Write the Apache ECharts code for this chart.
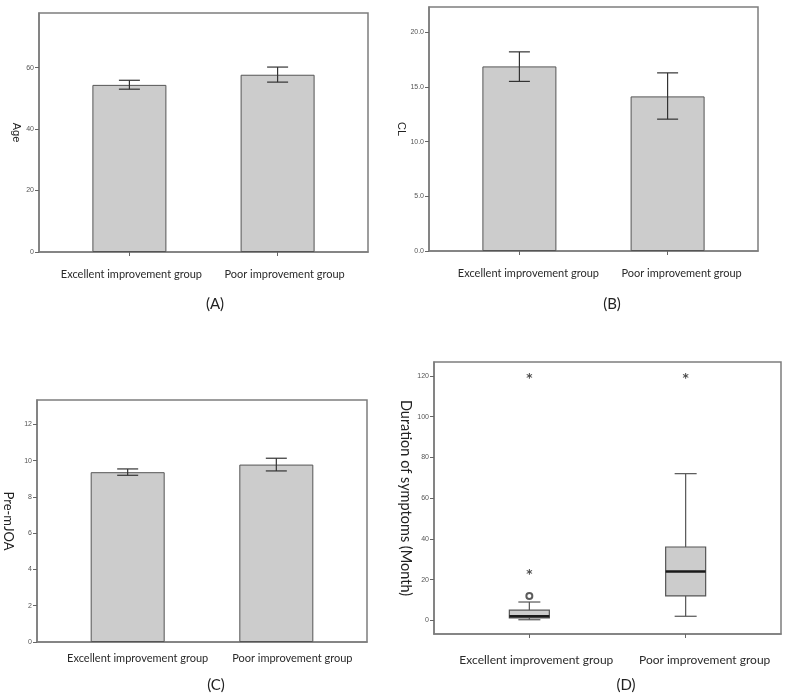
<!DOCTYPE html>
<html lang="en">
<head>
  <meta charset="UTF-8">
  <title>Groups</title>
  <script src="https://cdn.jsdelivr.net/npm/echarts@6/dist/echarts.min.js"></script>
  <style>
    html, body { margin: 0; padding: 0; background: #fff; }
    #main { width: 788px; height: 698px; }
  </style>
</head>
<body>
<div id="main"></div>
<script type="text/javascript">
  var groups = ['Excellent improvement group', 'Poor improvement group'];

  // (A) Age: mean with error bar
  var ageMean = [54.4, 57.7];
  var ageLow = [53.0, 55.3];
  var ageHigh = [55.9, 60.2];
  var ageTicks = [0, 20, 40, 60];

  // (B) CL
  var clMean = [16.87, 14.13];
  var clLow = [15.5, 12.05];
  var clHigh = [18.2, 16.28];
  var clTicks = [0, 5, 10, 15, 20];

  // (C) Pre-mJOA
  var mjoaMean = [9.36, 9.78];
  var mjoaLow = [9.19, 9.43];
  var mjoaHigh = [9.54, 10.13];
  var mjoaTicks = [0, 2, 4, 6, 8, 10, 12];

  // (D) Duration of symptoms: min, q1, median, q3, max
  var durExcellent = [0.3, 1.2, 2, 5, 9];
  var durPoor = [2, 12, 24, 36, 72];
  var durCircles = [[1, 12]];
  var durStars = [[1, 24], [1, 120], [2, 120]];
  var durTicks = [0, 20, 40, 60, 80, 100, 120];

  var boxColor = '#7d7d7d';
  var catFont = 'Lato';

  // labels sit a bit right of their ticks in the original figure
  function xAxisFor(idx, margin, showTick, fontSize, shift) {
    var rich = {};
    for (var i = 0; i < 2; i++) {
      rich['g' + i] = {
        fontFamily: catFont,
        fontSize: fontSize,
        color: '#2a2a2a',
        padding: [0, 0, 0, shift[i] * 2]
      };
    }
    return {
      type: 'value',
      gridIndex: idx,
      min: 0.39,
      max: 2.61,
      splitLine: { show: false },
      axisLine: { show: true, onZero: false, lineStyle: { color: boxColor, width: 1.5 } },
      axisTick: { show: showTick, customValues: [1, 2], length: 4, lineStyle: { color: '#666' } },
      axisLabel: {
        customValues: [1, 2],
        margin: margin,
        rich: rich,
        formatter: function (v) {
          var k = Math.round(v) - 1;
          return '{g' + k + '|' + groups[k] + '}';
        }
      }
    };
  }

  function yAxisFor(idx, min, max, ticks, name, nameSize, nameFont, nameGap, digits) {
    return {
      type: 'value',
      gridIndex: idx,
      min: min,
      max: max,
      name: name,
      nameLocation: 'middle',
      nameRotate: -90,
      nameGap: nameGap,
      nameTextStyle: { fontFamily: nameFont, fontSize: nameSize, color: '#222' },
      splitLine: { show: false },
      axisLine: { show: true, onZero: false, lineStyle: { color: boxColor, width: 1.5 } },
      axisTick: { show: true, customValues: ticks, length: 4, lineStyle: { color: '#666' } },
      axisLabel: {
        customValues: ticks,
        margin: 5,
        fontFamily: 'Liberation Sans',
        fontSize: 7,
        color: '#555',
        formatter: function (v) { return digits ? v.toFixed(digits) : String(v); }
      }
    };
  }

  function barSeries(idx, values) {
    return {
      type: 'bar',
      xAxisIndex: idx,
      yAxisIndex: idx,
      barWidth: 74,
      data: values.map(function (v, i) { return [i + 1, v]; }),
      itemStyle: { color: '#cccccc', borderColor: '#555', borderWidth: 1 },
      silent: true
    };
  }

  function errorSeries(idx, low, high) {
    return {
      type: 'custom',
      xAxisIndex: idx,
      yAxisIndex: idx,
      z: 5,
      silent: true,
      encode: { x: 0, y: [1, 2] },
      data: low.map(function (l, i) { return [i + 1, l, high[i]]; }),
      renderItem: function (params, api) {
        var x = api.value(0);
        var lo = api.coord([x, api.value(1)]);
        var hi = api.coord([x, api.value(2)]);
        var w = 10.5;
        var st = { stroke: '#333', lineWidth: 1.2 };
        return {
          type: 'group',
          children: [
            { type: 'line', shape: { x1: lo[0], y1: lo[1], x2: hi[0], y2: hi[1] }, style: st },
            { type: 'line', shape: { x1: lo[0] - w, y1: lo[1], x2: lo[0] + w, y2: lo[1] }, style: st },
            { type: 'line', shape: { x1: hi[0] - w, y1: hi[1], x2: hi[0] + w, y2: hi[1] }, style: st }
          ]
        };
      }
    };
  }

  var boxData = [[1].concat(durExcellent), [2].concat(durPoor)];

  var boxSeries = {
    type: 'custom',
    xAxisIndex: 3,
    yAxisIndex: 3,
    silent: true,
    encode: { x: 0, y: [1, 2, 3, 4, 5] },
    data: boxData,
    renderItem: function (params, api) {
      var x = api.value(0);
      var pMin = api.coord([x, api.value(1)]);
      var pQ1 = api.coord([x, api.value(2)]);
      var pMed = api.coord([x, api.value(3)]);
      var pQ3 = api.coord([x, api.value(4)]);
      var pMax = api.coord([x, api.value(5)]);
      var half = 20;
      var cap = 11;
      var cx = pQ1[0];
      var st = { stroke: '#555', lineWidth: 1.2 };
      return {
        type: 'group',
        children: [
          { type: 'line', shape: { x1: cx, y1: pQ3[1], x2: cx, y2: pMax[1] }, style: st },
          { type: 'line', shape: { x1: cx, y1: pQ1[1], x2: cx, y2: pMin[1] }, style: st },
          { type: 'line', shape: { x1: cx - cap, y1: pMax[1], x2: cx + cap, y2: pMax[1] }, style: st },
          { type: 'line', shape: { x1: cx - cap, y1: pMin[1], x2: cx + cap, y2: pMin[1] }, style: st },
          { type: 'rect', shape: { x: cx - half, y: pQ3[1], width: half * 2, height: pQ1[1] - pQ3[1] },
            style: { fill: '#cccccc', stroke: '#555', lineWidth: 1.2 } },
          { type: 'line', shape: { x1: cx - half, y1: pMed[1], x2: cx + half, y2: pMed[1] },
            style: { stroke: '#1a1a1a', lineWidth: 2.6 } }
        ]
      };
    }
  };

  var myChart = echarts.init(document.getElementById('main'));

  var option = {
    backgroundColor: '#fff',
    animation: false,
    title: [
      { text: '(A)', left: 210, top: 292, textAlign: 'center', textStyle: { fontFamily: catFont, fontSize: 15, fontWeight: 'normal', color: '#222' } },
      { text: '(B)', left: 607, top: 292, textAlign: 'center', textStyle: { fontFamily: catFont, fontSize: 15, fontWeight: 'normal', color: '#222' } },
      { text: '(C)', left: 211, top: 673, textAlign: 'center', textStyle: { fontFamily: catFont, fontSize: 15, fontWeight: 'normal', color: '#222' } },
      { text: '(D)', left: 621, top: 673, textAlign: 'center', textStyle: { fontFamily: catFont, fontSize: 15, fontWeight: 'normal', color: '#222' } }
    ],
    grid: [
      { left: 39, top: 13, width: 329, height: 239, show: true, borderColor: boxColor, borderWidth: 1.5, backgroundColor: '#fff' },
      { left: 429, top: 7, width: 329, height: 244, show: true, borderColor: boxColor, borderWidth: 1.5, backgroundColor: '#fff' },
      { left: 37, top: 400, width: 330, height: 242, show: true, borderColor: boxColor, borderWidth: 1.5, backgroundColor: '#fff' },
      { left: 434, top: 362, width: 347, height: 272, show: true, borderColor: boxColor, borderWidth: 1.5, backgroundColor: '#fff' }
    ],
    xAxis: [
      xAxisFor(0, 17, true, 11, [2, 7]),
      xAxisFor(1, 17, true, 11, [9, 14]),
      xAxisFor(2, 11, false, 11, [10, 16]),
      xAxisFor(3, 20, true, 12, [7, 19])
    ],
    yAxis: [
      yAxisFor(0, 0, 77.8, ageTicks, 'Age', 11, 'Liberation Sans', 17, 0),
      yAxisFor(1, 0, 22.3, clTicks, 'CL', 11, 'Liberation Sans', 22, 1),
      yAxisFor(2, 0, 13.34, mjoaTicks, 'Pre-mJOA', 13, catFont, 22, 0),
      yAxisFor(3, -6.7, 126.8, durTicks, 'Duration of symptoms (Month)', 14.5, catFont, 20, 0)
    ],
    series: [
      barSeries(0, ageMean),
      errorSeries(0, ageLow, ageHigh),
      barSeries(1, clMean),
      errorSeries(1, clLow, clHigh),
      barSeries(2, mjoaMean),
      errorSeries(2, mjoaLow, mjoaHigh),
      boxSeries,
      {
        type: 'scatter',
        xAxisIndex: 3,
        yAxisIndex: 3,
        silent: true,
        data: durCircles,
        symbol: 'emptyCircle',
        symbolSize: 6,
        itemStyle: { color: '#333', borderColor: '#333', borderWidth: 1.6 }
      },
      {
        type: 'scatter',
        xAxisIndex: 3,
        yAxisIndex: 3,
        silent: true,
        data: durStars,
        symbolSize: 0,
        label: {
          show: true,
          position: 'inside',
          formatter: '*',
          fontFamily: 'DejaVu Sans',
          fontSize: 12,
          fontWeight: 'bold',
          color: '#222',
          offset: [0, 3]
        }
      }
    ]
  };
  myChart.setOption(option);
</script>
</body>
</html>
